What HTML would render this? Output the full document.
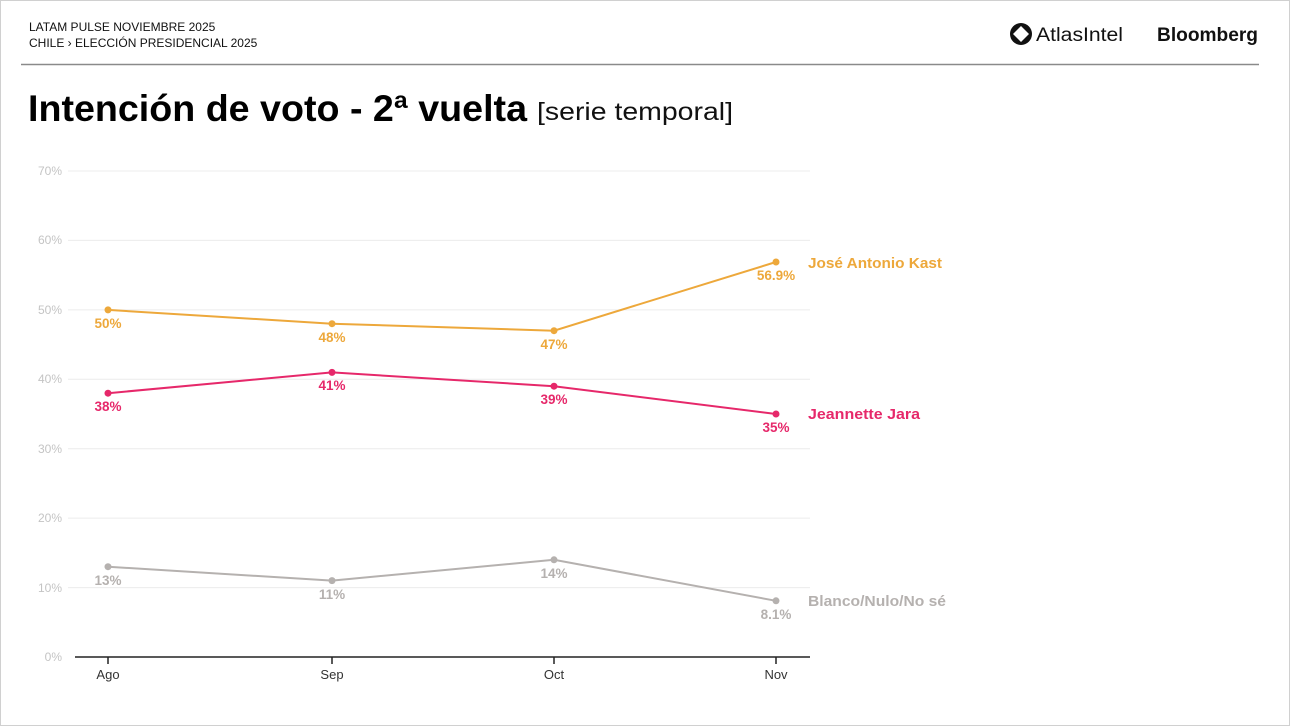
<!DOCTYPE html>
<html><head><meta charset="utf-8"><style>
html,body{margin:0;padding:0;background:#fff;}
body{width:1291px;height:727px;position:relative;overflow:hidden;font-family:"Liberation Sans",sans-serif;}
</style></head><body>
<svg width="1291" height="727" xmlns="http://www.w3.org/2000/svg" style="position:absolute;left:0;top:0">
<rect x="0.5" y="0.5" width="1289" height="725" fill="#fff" stroke="#d0d0d0"/>
<text x="29" y="31" font-size="12" fill="#111" font-family="Liberation Sans">LATAM PULSE NOVIEMBRE 2025</text>
<text x="29" y="47" font-size="12" fill="#111" font-family="Liberation Sans">CHILE › ELECCIÓN PRESIDENCIAL 2025</text>
<line x1="21" y1="64.5" x2="1259" y2="64.5" stroke="#8a8a8a" stroke-width="1.5"/>
<circle cx="1021" cy="34" r="11" fill="#111"/>
<path d="M1021 26 L1029 34 L1021 42 L1013 34 Z" fill="#fff"/>
<text x="1036" y="41" font-size="19" fill="#111" font-family="Liberation Sans" textLength="87" lengthAdjust="spacingAndGlyphs">AtlasIntel</text>
<text x="1157" y="41" font-size="19" font-weight="bold" fill="#111" font-family="Liberation Sans" textLength="101" lengthAdjust="spacingAndGlyphs">Bloomberg</text>
<text x="28" y="121" font-size="37" font-weight="bold" fill="#000" font-family="Liberation Sans" textLength="499" lengthAdjust="spacingAndGlyphs">Intención de voto - 2ª vuelta</text>
<text x="537" y="120" font-size="25" fill="#111" font-family="Liberation Sans" textLength="196" lengthAdjust="spacingAndGlyphs">[serie temporal]</text>
<g stroke="#ececec" stroke-width="1">
<line x1="68" y1="171" x2="810" y2="171"/>
<line x1="68" y1="240.4" x2="810" y2="240.4"/>
<line x1="68" y1="309.9" x2="810" y2="309.9"/>
<line x1="68" y1="379.3" x2="810" y2="379.3"/>
<line x1="68" y1="448.7" x2="810" y2="448.7"/>
<line x1="68" y1="518.1" x2="810" y2="518.1"/>
<line x1="68" y1="587.6" x2="810" y2="587.6"/>
</g>
<g font-size="12" fill="#c4c4c4" text-anchor="end" font-family="Liberation Sans">
<text x="62" y="175">70%</text><text x="62" y="244">60%</text><text x="62" y="314">50%</text>
<text x="62" y="383">40%</text><text x="62" y="453">30%</text><text x="62" y="522">20%</text>
<text x="62" y="592">10%</text><text x="62" y="661">0%</text>
</g>
<line x1="75" y1="657" x2="810" y2="657" stroke="#222" stroke-width="1.5"/>
<g stroke="#222" stroke-width="1.5">
<line x1="108" y1="657" x2="108" y2="664"/><line x1="332" y1="657" x2="332" y2="664"/>
<line x1="554" y1="657" x2="554" y2="664"/><line x1="776" y1="657" x2="776" y2="664"/>
</g>
<g font-size="13" fill="#333" text-anchor="middle" font-family="Liberation Sans">
<text x="108" y="679">Ago</text><text x="332" y="679">Sep</text><text x="554" y="679">Oct</text><text x="776" y="679">Nov</text>
</g>
<g fill="none" stroke-width="2">
<polyline points="108,309.9 332,323.7 554,330.7 776,262" stroke="#eda83b"/>
<polyline points="108,393.2 332,372.4 554,386.2 776,414" stroke="#e6286a"/>
<polyline points="108,566.7 332,580.6 554,559.8 776,600.8" stroke="#b5b1af"/>
</g>
<g fill="#eda83b"><circle cx="108" cy="309.9" r="3.5"/><circle cx="332" cy="323.7" r="3.5"/><circle cx="554" cy="330.7" r="3.5"/><circle cx="776" cy="262" r="3.5"/></g>
<g fill="#e6286a"><circle cx="108" cy="393.2" r="3.5"/><circle cx="332" cy="372.4" r="3.5"/><circle cx="554" cy="386.2" r="3.5"/><circle cx="776" cy="414" r="3.5"/></g>
<g fill="#b5b1af"><circle cx="108" cy="566.7" r="3.5"/><circle cx="332" cy="580.6" r="3.5"/><circle cx="554" cy="559.8" r="3.5"/><circle cx="776" cy="600.8" r="3.5"/></g>
<g font-size="13.5" font-weight="bold" text-anchor="middle" font-family="Liberation Sans">
<g fill="#eda83b"><text x="108" y="328">50%</text><text x="332" y="342">48%</text><text x="554" y="349">47%</text><text x="776" y="280">56.9%</text></g>
<g fill="#e6286a"><text x="108" y="411">38%</text><text x="332" y="390">41%</text><text x="554" y="404">39%</text><text x="776" y="432">35%</text></g>
<g fill="#b5b1af"><text x="108" y="585">13%</text><text x="332" y="599">11%</text><text x="554" y="578">14%</text><text x="776" y="619">8.1%</text></g>
</g>
<g font-size="14.5" font-weight="bold" font-family="Liberation Sans">
<text x="808" y="268" fill="#eda83b" textLength="134" lengthAdjust="spacingAndGlyphs">José Antonio Kast</text>
<text x="808" y="419" fill="#e6286a" textLength="112" lengthAdjust="spacingAndGlyphs">Jeannette Jara</text>
<text x="808" y="606" fill="#b5b1af" textLength="138" lengthAdjust="spacingAndGlyphs">Blanco/Nulo/No sé</text>
</g>
</svg>
</body></html>
